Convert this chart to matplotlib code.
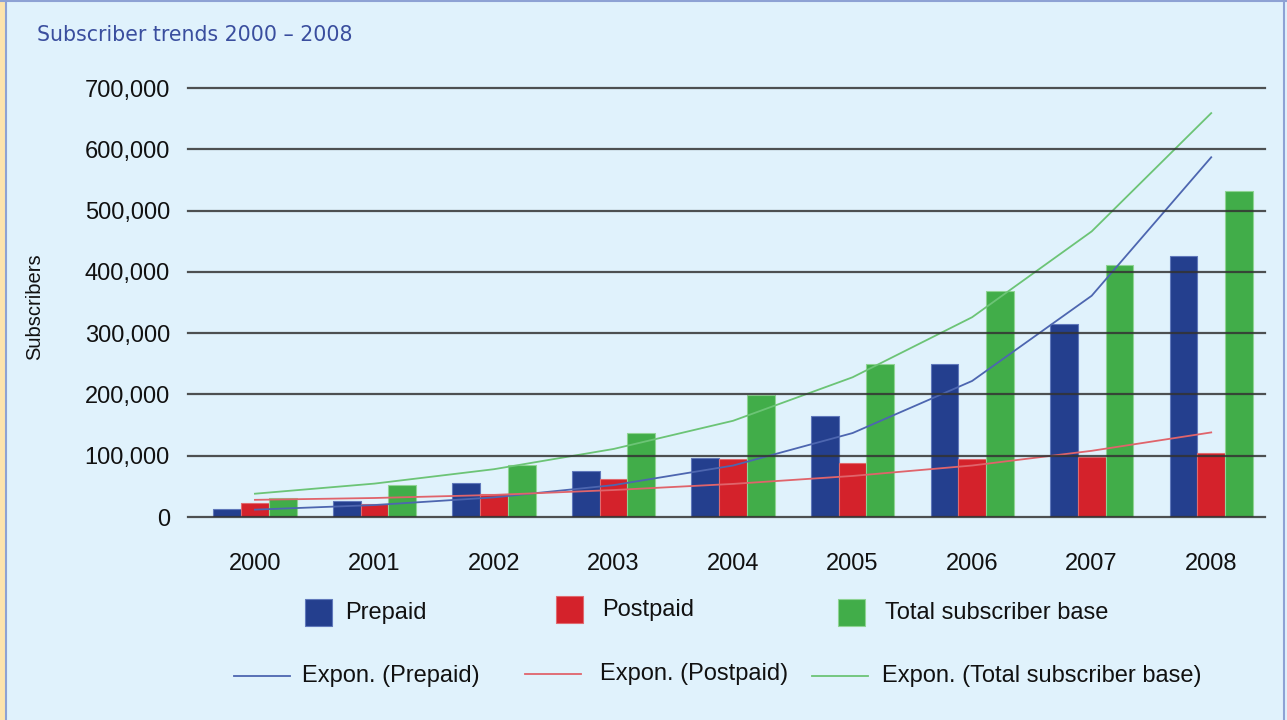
import numpy as np
import matplotlib
matplotlib.use("Agg")
import matplotlib.pyplot as plt
from matplotlib.patches import Rectangle
from matplotlib.lines import Line2D
from matplotlib.ticker import FuncFormatter

years = ["2000", "2001", "2002", "2003", "2004", "2005", "2006", "2007", "2008"]
prepaid = [13400, 26600, 55500, 75000, 95800, 165000, 250000, 315000, 426000]
postpaid = [22300, 21700, 38000, 62000, 94600, 87600, 94600, 97400, 104000]
total = [30500, 52000, 84800, 137500, 199000, 250000, 369000, 412000, 532000]

trend_prepaid = [12000, 19500, 32000, 52000, 84000, 137000, 222000, 361000, 587000]
trend_postpaid = [28000, 31000, 36000, 44000, 54000, 67000, 84000, 108000, 138000]
trend_total = [38000, 54500, 78000, 111000, 157000, 228000, 326000, 466000, 659000]

BG = "#e0f2fc"
C_PRE, C_POST, C_TOT = "#243f8e", "#d4222b", "#41ad49"
E_PRE, E_POST, E_TOT = "#6078bb", "#e06a6f", "#8fd394"
T_PRE, T_POST, T_TOT = "#4d66b0", "#e0646b", "#6cc476"

W, H = 1287, 720
fig = plt.figure(figsize=(W / 100, H / 100), dpi=100, facecolor=BG)


def fx(px):
    return px / W


def fy(py):
    return 1 - py / H


ax = fig.add_axes([fx(188), fy(517), fx(1265) - fx(188), fy(88) - fy(517)])
ax.set_facecolor(BG)

x = np.arange(len(years))
bw = 0.232
ax.bar(x - bw, prepaid, bw, color=C_PRE, edgecolor=E_PRE, lw=0.8, zorder=3)
ax.bar(x, postpaid, bw, color=C_POST, edgecolor=E_POST, lw=0.8, zorder=3)
ax.bar(x + bw, total, bw, color=C_TOT, edgecolor=E_TOT, lw=0.8, zorder=3)

ax.plot(x, trend_prepaid, color=T_PRE, lw=1.3, zorder=4)
ax.plot(x, trend_postpaid, color=T_POST, lw=1.3, zorder=4)
ax.plot(x, trend_total, color=T_TOT, lw=1.3, zorder=4)

ax.set_ylim(0, 700000)
ax.set_xlim(-0.56, 8.45)
ax.set_yticks(np.arange(0, 700001, 100000))
ax.yaxis.set_major_formatter(FuncFormatter(lambda v, p: f"{int(v):,}"))
for v in np.arange(0, 700001, 100000):
    ax.axhline(v, color="#333333", lw=1.6, zorder=5, alpha=0.85, clip_on=False)
ax.set_xticks(x)
ax.set_xticklabels(years)
for s in ax.spines.values():
    s.set_visible(False)
ax.tick_params(axis="both", length=0, labelsize=17, labelcolor="#111111",
               labelfontfamily="Liberation Sans")
ax.tick_params(axis="y", pad=13)
ax.tick_params(axis="x", pad=26)

fig.text(fx(35), fy(307), "Subscribers", fontsize=14.5, family="Liberation Sans",
         color="#111111", rotation=90, ha="center", va="center")
fig.text(fx(37), fy(35), "Subscriber trends 2000 \u2013 2008", fontsize=14.8,
         color="#3a4e9e", family="DejaVu Sans", ha="left", va="center")

# legend, laid out like the original (two rows)
tk = dict(fontsize=17, family="Liberation Sans", color="#111111",
          ha="left", va="center")
for px, c, e, lab, tx, cy in [(305, C_PRE, E_PRE, "Prepaid", 345, 613),
                              (556, C_POST, E_POST, "Postpaid", 602, 610),
                              (838, C_TOT, E_TOT, "Total subscriber base", 885, 613)]:
    fig.patches.append(Rectangle((fx(px), fy(cy + 13)), fx(27), 27 / H,
                                 transform=fig.transFigure, facecolor=c,
                                 edgecolor=e, lw=0.8))
    fig.text(fx(tx), fy(cy), lab, **tk)
for x0, x1, c, lab, tx, cy in [(234, 290, T_PRE, "Expon. (Prepaid)", 302, 676),
                               (525, 581, T_POST, "Expon. (Postpaid)", 600, 674),
                               (812, 868, T_TOT, "Expon. (Total subscriber base)", 882, 676)]:
    fig.lines.append(Line2D([fx(x0), fx(x1)], [fy(cy), fy(cy)], color=c, lw=1.3,
                            transform=fig.transFigure))
    fig.text(fx(tx), fy(cy), lab, **tk)

# frame around the panel
fig.patches.append(Rectangle((0, 0), fx(5), 1, transform=fig.transFigure,
                             facecolor="#fde4ad", edgecolor="none"))
fig.lines.append(Line2D([fx(6), fx(6)], [0, 1], color="#8ea2d4", lw=1.5,
                        transform=fig.transFigure))
fig.lines.append(Line2D([0, 1], [fy(1), fy(1)], color="#8ea2d4", lw=1.5,
                        transform=fig.transFigure))
fig.lines.append(Line2D([fx(1284), fx(1284)], [0, 1], color="#8ea2d4", lw=1.5,
                        transform=fig.transFigure))

fig.savefig("out.png", dpi=100, facecolor=BG)
